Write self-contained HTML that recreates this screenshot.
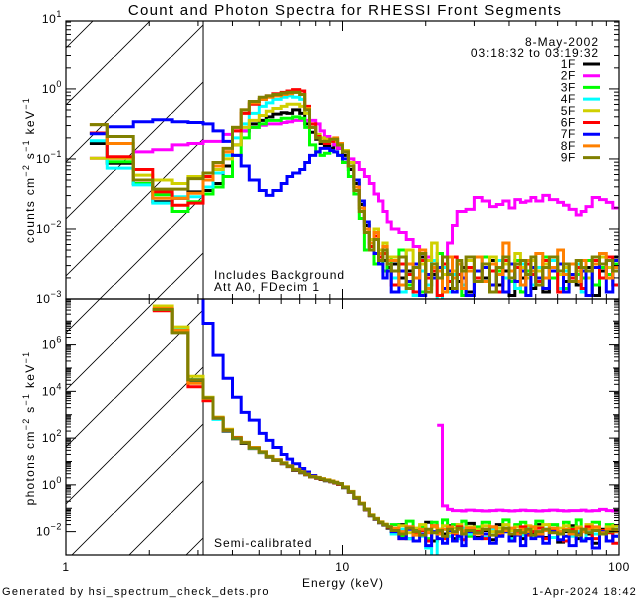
<!DOCTYPE html>
<html><head><meta charset="utf-8">
<style>
html,body{margin:0;padding:0;background:#fff;}
svg{display:block;font-family:"Liberation Sans",sans-serif;}
text{letter-spacing:0.6px;}
</style></head>
<body>
<svg id="chart" width="640" height="600" viewBox="0 0 640 600" xmlns="http://www.w3.org/2000/svg">
<defs>
<clipPath id="clipTop"><rect x="66" y="21" width="552" height="278"/></clipPath>
<clipPath id="clipBot"><rect x="66" y="299" width="552" height="256"/></clipPath>
<pattern id="hatch" patternUnits="userSpaceOnUse" width="57" height="57">
<line x1="0" y1="57" x2="57" y2="0" stroke="#000" stroke-width="0.8"/>
</pattern>
</defs>
<rect x="0" y="0" width="640" height="600" fill="#fff"/>
<text x="345" y="15" font-size="15" style="letter-spacing:1.3px" text-anchor="middle">Count and Photon Spectra for RHESSI Front Segments</text>
<g id="plots"></g>
<text x="214" y="279" font-size="12" style="letter-spacing:1px">Includes Background</text>
<text x="214" y="291" font-size="12" style="letter-spacing:1px">Att A0, FDecim 1</text>
<text x="214" y="547" font-size="12" style="letter-spacing:1px">Semi-calibrated</text>
<text x="343" y="587" font-size="12" style="letter-spacing:1px" text-anchor="middle">Energy (keV)</text>
<text x="2" y="595" font-size="11" style="letter-spacing:1.3px">Generated by hsi_spectrum_check_dets.pro</text>
<text x="637" y="595" font-size="11" style="letter-spacing:1.2px" text-anchor="end">1-Apr-2024 18:42</text>
<text x="599" y="46" font-size="12" style="letter-spacing:1px" text-anchor="end">8-May-2002</text>
<text x="599" y="57" font-size="12" style="letter-spacing:0.9px" text-anchor="end">03:18:32 to 03:19:32</text>
<text transform="translate(34,170) rotate(-90)" font-size="12" style="letter-spacing:1.3px" text-anchor="middle">counts cm<tspan dy="-5" font-size="9">−2</tspan><tspan dy="5"> s</tspan><tspan dy="-5" font-size="9">−1</tspan><tspan dy="5"> keV</tspan><tspan dy="-5" font-size="9">−1</tspan></text>
<text transform="translate(34,428) rotate(-90)" font-size="12" style="letter-spacing:1.3px" text-anchor="middle">photons cm<tspan dy="-5" font-size="9">−2</tspan><tspan dy="5"> s</tspan><tspan dy="-5" font-size="9">−1</tspan><tspan dy="5"> keV</tspan><tspan dy="-5" font-size="9">−1</tspan></text>
</svg>
<script>
// ---- data ----
const detectors = ["1F","2F","3F","4F","5F","6F","7F","8F","9F"];
const colors = ["#000000","#ff00ff","#00ff00","#00ffff","#d0d000","#ff0000","#0000ff","#ff8000","#808000"];
const energyEdges = [1.22,1.41,1.75,2.06,2.42,2.76,3.13,3.4,3.7,4.0,4.3,4.6,5.0,5.3,5.6,6.0,6.3,6.6,7.0,7.3,7.6,8.0,8.3,8.6,9.0,9.3,9.6,10,10.5,11,11.5,12,12.5,13,13.5,14,14.5,15,16,17,18,19,20,21,22,23,24,25,26,27,28,30,32,34,36,38,40,42,44,46,48,50,53,56,60,63,66,70,73,76,80,85,90,95,100];
const xTicks = [1,10,100];
const xTickLabels = ["1","10","100"];
const topYTicks = [-3,-2,-1,0,1];
const botYTicks = [-2,0,2,4,6];

// log10 counts per detector
const counts1F = [-0.78,-1.06,-1.35,-1.61,-1.56,-1.47,-1.45,-1.35,-1.1,-0.8,-0.6,-0.5,-0.45,-0.4,-0.36,-0.34,-0.35,-0.3,-0.35,-0.5,-0.62,-0.72,-0.78,-0.82,-0.85,-0.8,-0.85,-0.95,-1.15,-1.35,-1.65,-1.95,-2.2,-2.1,-2.35,-2.45,-2.55,-2.5,-2.7,-2.6,-2.9,-2.4,-2.8,-2.65,-2.7,-2.5,-2.85,-2.6,-2.75,-2.55,-2.9,-2.6,-2.7,-2.45,-2.8,-2.6,-2.95,-2.55,-2.7,-2.5,-2.85,-2.6,-2.9,-2.55,-2.65,-2.75,-2.5,-2.8,-2.6,-2.55,-2.95,-2.6,-2.7,-2.4];
const counts2F = [-0.99,-0.99,-0.9,-0.87,-0.8,-0.78,-0.75,-0.75,-0.65,-0.6,-0.6,-0.55,-0.52,-0.5,-0.5,-0.48,-0.47,-0.45,-0.45,-0.45,-0.45,-0.5,-0.6,-0.68,-0.72,-0.8,-0.85,-0.9,-1.0,-1.05,-1.15,-1.25,-1.35,-1.5,-1.6,-1.75,-1.9,-2.0,-2.05,-2.15,-2.25,-2.35,-2.4,-2.45,-2.6,-2.4,-2.2,-1.95,-1.75,-1.75,-1.72,-1.55,-1.6,-1.68,-1.65,-1.6,-1.7,-1.58,-1.62,-1.6,-1.55,-1.6,-1.52,-1.58,-1.62,-1.66,-1.72,-1.8,-1.75,-1.68,-1.55,-1.58,-1.62,-1.7];
const counts3F = [-0.63,-1.04,-1.35,-1.51,-1.75,-1.61,-1.5,-1.4,-1.25,-0.95,-0.7,-0.55,-0.5,-0.45,-0.45,-0.42,-0.42,-0.4,-0.42,-0.55,-0.8,-0.9,-0.95,-0.92,-0.88,-0.9,-0.95,-1.05,-1.25,-1.5,-1.85,-2.3,-2.2,-2.5,-2.3,-2.6,-2.4,-2.6,-2.3,-2.8,-2.55,-2.9,-2.45,-2.7,-2.35,-2.85,-2.6,-2.7,-2.5,-2.95,-2.55,-2.7,-2.4,-2.8,-2.6,-2.5,-2.75,-2.45,-2.9,-2.6,-2.55,-2.8,-2.4,-2.7,-2.6,-2.85,-2.5,-2.65,-2.7,-2.45,-2.8,-2.55,-2.65,-2.5];
const counts4F = [-0.74,-1.13,-1.37,-1.63,-1.54,-1.54,-1.4,-1.2,-0.95,-0.7,-0.5,-0.35,-0.25,-0.2,-0.15,-0.12,-0.1,-0.12,-0.15,-0.3,-0.55,-0.7,-0.75,-0.78,-0.75,-0.72,-0.8,-0.9,-1.1,-1.4,-1.7,-2.0,-2.3,-2.1,-2.4,-2.3,-2.5,-2.7,-2.9,-2.5,-2.95,-2.6,-2.8,-2.45,-3.2,-2.55,-2.9,-2.65,-2.5,-2.8,-2.6,-2.75,-2.55,-2.9,-2.45,-2.7,-2.6,-2.85,-2.5,-2.65,-2.8,-2.55,-2.7,-2.45,-2.85,-2.6,-2.75,-2.5,-2.9,-2.6,-2.55,-2.7,-2.4,-2.8];
const counts5F = [-0.99,-0.99,-1.23,-1.3,-1.35,-1.25,-1.2,-1.15,-1.0,-0.8,-0.55,-0.45,-0.38,-0.32,-0.28,-0.25,-0.22,-0.22,-0.25,-0.35,-0.55,-0.65,-0.7,-0.72,-0.72,-0.75,-0.8,-0.88,-1.05,-1.3,-1.6,-1.9,-2.15,-2.0,-2.3,-2.2,-2.4,-2.4,-2.6,-2.3,-2.7,-2.5,-2.45,-2.2,-2.55,-2.65,-2.4,-2.6,-2.5,-2.7,-2.45,-2.6,-2.55,-2.4,-2.65,-2.5,-2.6,-2.35,-2.55,-2.7,-2.45,-2.6,-2.5,-2.4,-2.65,-2.55,-2.5,-2.6,-2.45,-2.7,-2.5,-2.4,-2.55,-2.6];
const counts6F = [-0.63,-0.97,-1.15,-1.47,-1.66,-1.63,-1.25,-1.1,-0.9,-0.6,-0.35,-0.22,-0.15,-0.1,-0.07,-0.05,-0.03,-0.01,-0.03,-0.25,-0.5,-0.68,-0.75,-0.78,-0.75,-0.72,-0.8,-0.9,-1.1,-1.4,-1.7,-2.0,-2.25,-2.1,-2.4,-2.35,-2.5,-2.8,-2.5,-2.65,-2.9,-2.45,-2.7,-2.6,-2.95,-2.5,-2.75,-2.4,-2.65,-2.85,-2.55,-2.7,-2.5,-2.6,-2.9,-2.45,-2.7,-2.55,-2.8,-2.5,-2.65,-2.75,-2.45,-2.6,-2.9,-2.5,-2.7,-2.55,-2.85,-2.6,-2.45,-2.7,-2.4,-2.8];
const counts7F = [-0.64,-0.54,-0.47,-0.44,-0.47,-0.48,-0.5,-0.6,-0.75,-0.95,-1.1,-1.3,-1.45,-1.52,-1.45,-1.35,-1.25,-1.2,-1.15,-1.05,-0.95,-0.9,-0.85,-0.85,-0.88,-0.9,-0.95,-1.0,-1.1,-1.3,-1.6,-1.9,-2.2,-2.35,-2.5,-2.7,-2.6,-2.9,-2.6,-2.75,-2.5,-2.95,-2.65,-2.7,-2.55,-2.85,-2.6,-2.9,-2.5,-2.7,-2.95,-2.6,-2.55,-2.8,-2.65,-2.9,-2.5,-2.75,-2.6,-2.95,-2.55,-2.7,-2.85,-2.6,-2.5,-2.9,-2.65,-2.75,-2.6,-2.95,-2.55,-2.5,-2.9,-2.45];
const counts8F = [-0.51,-0.78,-1.3,-1.56,-1.56,-1.49,-1.3,-1.1,-0.9,-0.55,-0.3,-0.2,-0.15,-0.12,-0.1,-0.08,-0.07,-0.05,-0.08,-0.28,-0.55,-0.7,-0.75,-0.75,-0.72,-0.7,-0.78,-0.9,-1.1,-1.4,-1.7,-2.0,-2.2,-2.05,-2.35,-2.25,-2.45,-2.45,-2.8,-2.5,-2.7,-2.3,-2.85,-2.55,-2.6,-2.9,-2.4,-2.7,-2.5,-2.85,-2.6,-2.4,-2.75,-2.5,-2.65,-2.2,-2.6,-2.5,-2.8,-2.45,-2.6,-2.35,-2.7,-2.55,-2.3,-2.65,-2.5,-2.75,-2.45,-2.6,-2.5,-2.35,-2.7,-2.55];
const counts9F = [-0.51,-0.68,-1.3,-1.43,-1.43,-1.28,-1.2,-1.05,-0.85,-0.55,-0.3,-0.18,-0.12,-0.1,-0.08,-0.06,-0.05,-0.05,-0.08,-0.3,-0.55,-0.7,-0.75,-0.75,-0.72,-0.72,-0.8,-0.9,-1.1,-1.45,-1.75,-2.05,-2.3,-2.15,-2.45,-2.3,-2.5,-2.6,-2.4,-2.85,-2.55,-2.35,-2.9,-2.5,-2.7,-2.4,-2.65,-2.85,-2.45,-2.6,-2.4,-2.75,-2.5,-2.9,-2.55,-2.4,-2.7,-2.5,-2.45,-2.65,-2.4,-2.8,-2.55,-2.4,-2.6,-2.5,-2.75,-2.45,-2.55,-2.6,-2.4,-2.5,-2.45,-2.6];

// log10 photon flux per detector
const photons1F = [null,null,null,7.5,6.55,4.45,3.65,2.82,2.3,1.97,1.77,1.55,1.38,1.18,1.04,0.9,0.78,0.62,0.52,0.43,0.34,0.28,0.23,0.18,0.13,0.08,0.02,-0.12,-0.32,-0.57,-0.82,-1.07,-1.32,-1.47,-1.62,-1.72,-1.85,-2.0,-1.7,-2.3,-1.9,-2.1,-1.6,-2.4,-1.95,-2.1,-1.75,-2.3,-1.9,-2.05,-1.65,-2.25,-1.95,-2.35,-1.7,-2.0,-2.2,-1.75,-2.3,-1.95,-2.05,-1.7,-2.25,-1.9,-2.45,-2.0,-1.75,-2.3,-1.95,-2.1,-2.5,-1.9,-2.4,-2.0];
const photons2F = [null,null,null,null,null,null,null,null,null,null,null,null,null,null,null,null,null,null,null,null,null,null,null,null,null,null,null,null,null,null,null,null,null,null,null,null,null,null,null,null,null,null,null,null,2.55,-0.9,-1.05,-1.1,-1.1,-1.12,-1.08,-1.1,-1.12,-1.1,-1.08,-1.1,-1.12,-1.1,-1.08,-1.1,-1.1,-1.12,-1.1,-1.08,-1.1,-1.12,-1.1,-1.1,-1.08,-1.12,-1.1,-1.05,-1.1,-1.12];
const photons3F = [null,null,null,7.5,6.6,4.5,3.7,2.85,2.34,2.0,1.8,1.57,1.4,1.2,1.06,0.93,0.8,0.65,0.55,0.45,0.35,0.3,0.25,0.2,0.15,0.1,0.05,-0.1,-0.3,-0.55,-0.8,-1.05,-1.3,-1.45,-1.6,-1.7,-1.8,-1.7,-2.2,-1.55,-2.0,-1.8,-2.3,-1.6,-1.9,-1.5,-2.0,-1.7,-1.9,-1.55,-2.2,-1.8,-1.6,-2.0,-1.85,-1.5,-1.95,-1.7,-1.6,-2.1,-1.8,-1.55,-1.9,-1.7,-2.0,-1.6,-1.85,-1.5,-1.95,-1.8,-1.6,-2.0,-1.7,-1.9];
const photons4F = [null,null,null,7.5,6.65,4.5,3.68,2.8,2.32,1.99,1.79,1.56,1.39,1.19,1.05,0.92,0.8,0.64,0.54,0.44,0.35,0.3,0.25,0.2,0.15,0.1,0.04,-0.1,-0.3,-0.55,-0.8,-1.05,-1.3,-1.45,-1.6,-1.7,-1.8,-2.1,-1.9,-2.3,-2.0,-2.2,-2.7,-3.2,-2.1,-1.9,-2.2,-2.0,-2.3,-1.85,-2.1,-2.0,-2.25,-1.9,-2.1,-2.0,-2.3,-1.95,-2.15,-1.85,-2.2,-2.0,-1.9,-2.25,-2.05,-1.9,-2.2,-2.0,-2.35,-1.95,-2.1,-2.0,-1.9,-2.2];
const photons5F = [null,null,null,7.65,6.75,4.65,3.75,2.9,2.38,2.03,1.82,1.6,1.42,1.22,1.08,0.95,0.82,0.67,0.57,0.47,0.37,0.32,0.27,0.22,0.17,0.12,0.06,-0.08,-0.28,-0.53,-0.78,-1.03,-1.28,-1.43,-1.58,-1.68,-1.78,-1.9,-1.75,-2.05,-1.85,-1.7,-2.0,-1.8,-1.9,-1.75,-2.05,-1.85,-1.7,-1.95,-1.8,-1.9,-1.75,-2.0,-1.85,-1.7,-1.95,-1.8,-2.0,-1.75,-1.9,-1.8,-1.7,-1.95,-1.85,-1.75,-2.0,-1.8,-1.9,-1.7,-1.85,-1.95,-1.8,-1.75];
const photons6F = [null,null,null,7.45,6.6,4.2,3.6,2.85,2.33,2.02,1.8,1.58,1.4,1.2,1.05,0.92,0.79,0.64,0.54,0.44,0.34,0.29,0.24,0.19,0.14,0.09,0.03,-0.11,-0.31,-0.56,-0.81,-1.06,-1.31,-1.46,-1.61,-1.71,-1.81,-1.9,-2.3,-1.8,-2.1,-1.95,-2.4,-1.75,-2.05,-2.3,-1.9,-2.1,-1.8,-2.35,-1.95,-2.0,-2.3,-1.8,-2.1,-1.9,-2.4,-2.0,-1.8,-2.15,-2.0,-1.85,-2.3,-1.95,-2.05,-2.4,-1.9,-2.1,-2.0,-1.8,-2.3,-1.95,-2.05,-2.5];
const photons7F = [null,null,null,null,null,9,6.9,5.55,4.56,3.75,3.1,2.77,2.2,1.9,1.6,1.3,1.1,0.9,0.7,0.55,0.4,0.3,0.25,0.2,0.15,0.1,0.05,-0.1,-0.3,-0.55,-0.8,-1.05,-1.3,-1.45,-1.6,-1.7,-1.8,-2.0,-2.3,-1.9,-2.4,-2.1,-2.6,-2.0,-2.3,-2.5,-1.95,-2.4,-2.2,-2.6,-2.0,-2.3,-2.1,-2.5,-2.2,-2.0,-2.4,-2.15,-2.6,-2.05,-2.3,-2.2,-2.5,-2.0,-2.35,-2.2,-2.6,-2.1,-2.4,-2.3,-2.7,-2.0,-2.4,-2.2];
const photons8F = [null,null,null,7.55,6.6,4.35,3.7,2.88,2.35,2.01,1.81,1.58,1.41,1.21,1.07,0.94,0.81,0.66,0.56,0.46,0.36,0.31,0.26,0.21,0.16,0.11,0.05,-0.09,-0.29,-0.54,-0.79,-1.04,-1.29,-1.44,-1.59,-1.69,-1.79,-1.85,-2.0,-1.8,-2.15,-1.9,-2.05,-1.75,-2.1,-1.9,-1.8,-2.05,-1.9,-2.0,-1.85,-2.1,-1.9,-1.8,-2.05,-1.95,-1.85,-2.1,-1.9,-2.0,-1.8,-2.1,-1.95,-1.85,-2.0,-1.9,-2.1,-1.85,-2.0,-1.9,-1.8,-2.05,-1.9,-2.0];
const photons9F = [null,null,null,7.5,6.5,4.5,3.72,2.86,2.34,2.0,1.8,1.57,1.4,1.2,1.06,0.93,0.8,0.65,0.55,0.45,0.35,0.3,0.25,0.2,0.15,0.1,0.05,-0.1,-0.3,-0.55,-0.8,-1.05,-1.3,-1.45,-1.6,-1.7,-1.8,-1.95,-2.1,-1.85,-2.0,-2.15,-1.9,-2.05,-1.95,-2.2,-1.9,-2.0,-1.85,-2.1,-1.95,-2.05,-1.9,-2.15,-2.0,-1.85,-2.1,-1.95,-2.05,-1.9,-2.15,-2.0,-1.9,-2.05,-2.1,-1.95,-2.0,-2.15,-1.9,-2.05,-1.95,-2.1,-2.0,-1.9];

const countSeries = [counts1F,counts2F,counts3F,counts4F,counts5F,counts6F,counts7F,counts8F,counts9F];
const photonSeries = [photons1F,photons2F,photons3F,photons4F,photons5F,photons6F,photons7F,photons8F,photons9F];

// ---- scales ----
const NS = "http://www.w3.org/2000/svg";
const X0 = 66, X1 = 619;
function xScale(e){ return X0 + Math.log10(e) / 2 * (X1 - X0); }
const TOP = {y0:21, y1:299, vmin:-3, vmax:0.97};
const BOT = {y0:299, y1:555, vmin:-3, vmax:7.95};
function yScale(p, v){ return p.y1 - (v - p.vmin) / (p.vmax - p.vmin) * (p.y1 - p.y0); }

const plots = document.getElementById('plots');
function mk(tag, attrs, parent){
  const el = document.createElementNS(NS, tag);
  for (const k in attrs) el.setAttribute(k, attrs[k]);
  (parent || plots).appendChild(el);
  return el;
}

function stepPath(p, vals){
  let d = ""; let prev = false;
  for (let i = 0; i < vals.length && i + 1 < energyEdges.length; i++){
    const v = vals[i];
    if (v === null || v === undefined){ prev = false; continue; }
    const xa = xScale(energyEdges[i]).toFixed(1), xb = xScale(energyEdges[i+1]).toFixed(1);
    const y = yScale(p, v).toFixed(1);
    if (!prev) d += "M" + xa + " " + y; else d += "V" + y;
    d += "H" + xb;
    prev = true;
  }
  return d;
}

function drawPanel(p, clipId, series, name, ticks){
  const hatch = mk('rect', {x:X0, y:p.y0, width:xScale(3.13)-X0, height:p.y1-p.y0, fill:'url(#hatch)'});
  
  
  const vline = mk('line', {x1:xScale(3.13), x2:xScale(3.13), y1:p.y0, y2:p.y1, stroke:'#000', 'stroke-width':1});
  
  
  const g = mk('g', {'clip-path':'url(#' + clipId + ')'});
  
  
  series.forEach((vals, k) => {
    const path = mk('path', {d:stepPath(p, vals), fill:'none', stroke:colors[k], 'stroke-width':3, 'stroke-linejoin':'miter'}, g);
    
    
  });
  const frame = mk('rect', {x:X0, y:p.y0, width:X1-X0, height:p.y1-p.y0, fill:'none', stroke:'#000', 'stroke-width':1.2});
  
  
  for (let dec = Math.floor(p.vmin); dec <= Math.ceil(p.vmax); dec++){
    for (let m = 1; m <= 9; m++){
      const v = dec + Math.log10(m);
      if (v < p.vmin - 1e-6 || v > p.vmax + 1e-6) continue;
      const y = yScale(p, v);
      const isMajor = (m === 1) && ticks.indexOf(dec) >= 0;
      const len = (m === 1) ? (isMajor ? 10 : 6) : 5;
      if (p === BOT && m !== 1 && ticks.indexOf(dec) < 0 && ticks.indexOf(dec-1) < 0) continue;
      mk('line', {x1:X0, x2:X0+len, y1:y, y2:y, stroke:'#000', 'stroke-width':1});
      mk('line', {x1:X1, x2:X1-len, y1:y, y2:y, stroke:'#000', 'stroke-width':1});
    }
  }
  ticks.forEach(dec => {
    const y = yScale(p, dec);
    const t = mk('text', {x:X0-4, y:y+4, 'font-size':12, 'text-anchor':'end'});
    
    
    t.textContent = '10';
    const s = document.createElementNS(NS, 'tspan');
    s.setAttribute('dy', '-6'); s.setAttribute('font-size', '9');
    s.textContent = dec < 0 ? '−' + (-dec) : String(dec);
    t.appendChild(s);
  });
  for (let dec = 0; dec < 2; dec++){
    for (let m = 1; m <= 10; m++){
      const e = Math.pow(10, dec) * m;
      const x = xScale(e);
      const len = (m === 1 || m === 10) ? 10 : 5;
      mk('line', {x1:x, x2:x, y1:p.y1, y2:p.y1-len, stroke:'#000', 'stroke-width':1});
      mk('line', {x1:x, x2:x, y1:p.y0, y2:p.y0+len, stroke:'#000', 'stroke-width':1});
    }
  }
}

drawPanel(TOP, 'clipTop', countSeries, 'counts', topYTicks);
drawPanel(BOT, 'clipBot', photonSeries, 'photons', botYTicks);

xTicks.forEach((e, i) => {
  const t = mk('text', {x:xScale(e), y:571, 'font-size':12, 'text-anchor':'middle'});
  
  
  t.textContent = xTickLabels[i];
});

detectors.forEach((d, k) => {
  const y = 64 + k * 11.7;
  const t = mk('text', {x:576, y:y+4, 'font-size':12, 'text-anchor':'end'});
  
  
  t.textContent = d;
  const l = mk('line', {x1:583, x2:600, y1:y, y2:y, stroke:colors[k], 'stroke-width':3});
  
  
});
</script>
</body></html>
